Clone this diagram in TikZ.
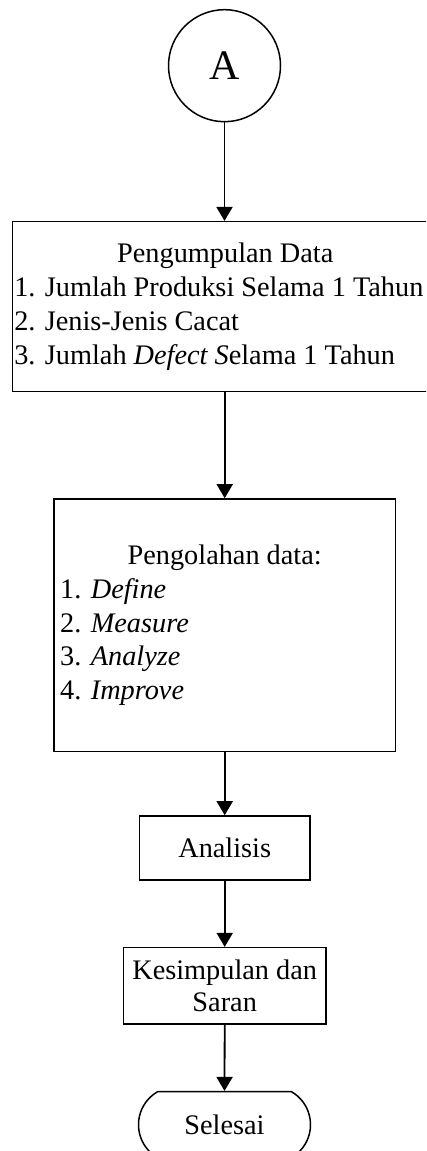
\documentclass[tikz,border=0pt]{standalone}
\usepackage{fontspec}
\setmainfont{Liberation Serif}
\usetikzlibrary{shapes.misc,arrows.meta}
\tikzset{
  boxnode/.style={draw, line width=1.5pt, rectangle, inner sep=0pt, align=center},
  flowarrow/.style={line width=1.8pt, -{Triangle[width=16pt,length=14pt]}},
}
\newcommand{\bigtext}{\fontsize{28.3}{33.8}\selectfont}
\begin{document}
\begin{tikzpicture}[x=1pt,y=1pt]
\fill[white] (0,0) rectangle (426,1151);
\useasboundingbox (0,0) rectangle (426,1151);
\clip (0,0) rectangle (426,1151);
% start connector
\node[draw, circle, line width=1.5pt, minimum size=112pt, inner sep=0pt, font=\fontsize{42}{48}\selectfont] (A) at (224.5,1085.3) {A};
% box 1
\node[boxnode, minimum width=425.6pt, minimum height=170pt, anchor=west] (b1) at (11.7,844.3)
  {\bigtext\parbox{422pt}{\centering Pengumpulan Data\par\raggedright
   1. Jumlah Produksi Selama 1 Tahun\par
   2. Jenis-Jenis Cacat\par
   3. Jumlah \textit{Defect S}elama 1 Tahun\par}};
% box 2
\node[boxnode, minimum width=341.3pt, minimum height=252.7pt] (b2) at (224.7,525.7)
  {\bigtext\parbox{329pt}{\centering Pengolahan data:\par\raggedright
   1. \textit{Define}\par
   2. \textit{Measure}\par
   3. \textit{Analyze}\par
   4. \textit{Improve}\par}};
% box 3
\node[boxnode, minimum width=170.7pt, minimum height=64pt, font=\bigtext] (b3) at (224.7,303) {Analisis};
% box 4
\node[boxnode, minimum width=202.7pt, minimum height=76.3pt, font=\fontsize{28.3}{31.6}\selectfont] (b4) at (224.7,165.2) {Kesimpulan dan\\Saran};
% terminal
\node[draw, rounded rectangle, rounded rectangle arc length=120, line width=1.5pt, minimum width=172pt, minimum height=66pt, inner sep=0pt, font=\bigtext] (end) at (224.5,26.3) {Selesai};
% arrows
\draw[flowarrow] (A.south) -- (A.south |- b1.north);
\draw[flowarrow] (b1.south -| b2.north) -- (b2.north);
\draw[flowarrow] (b2.south) -- (b3.north);
\draw[flowarrow] (b3.south) -- (b4.north);
\draw[flowarrow] (b4.south) -- (end.north);
\end{tikzpicture}
\end{document}
